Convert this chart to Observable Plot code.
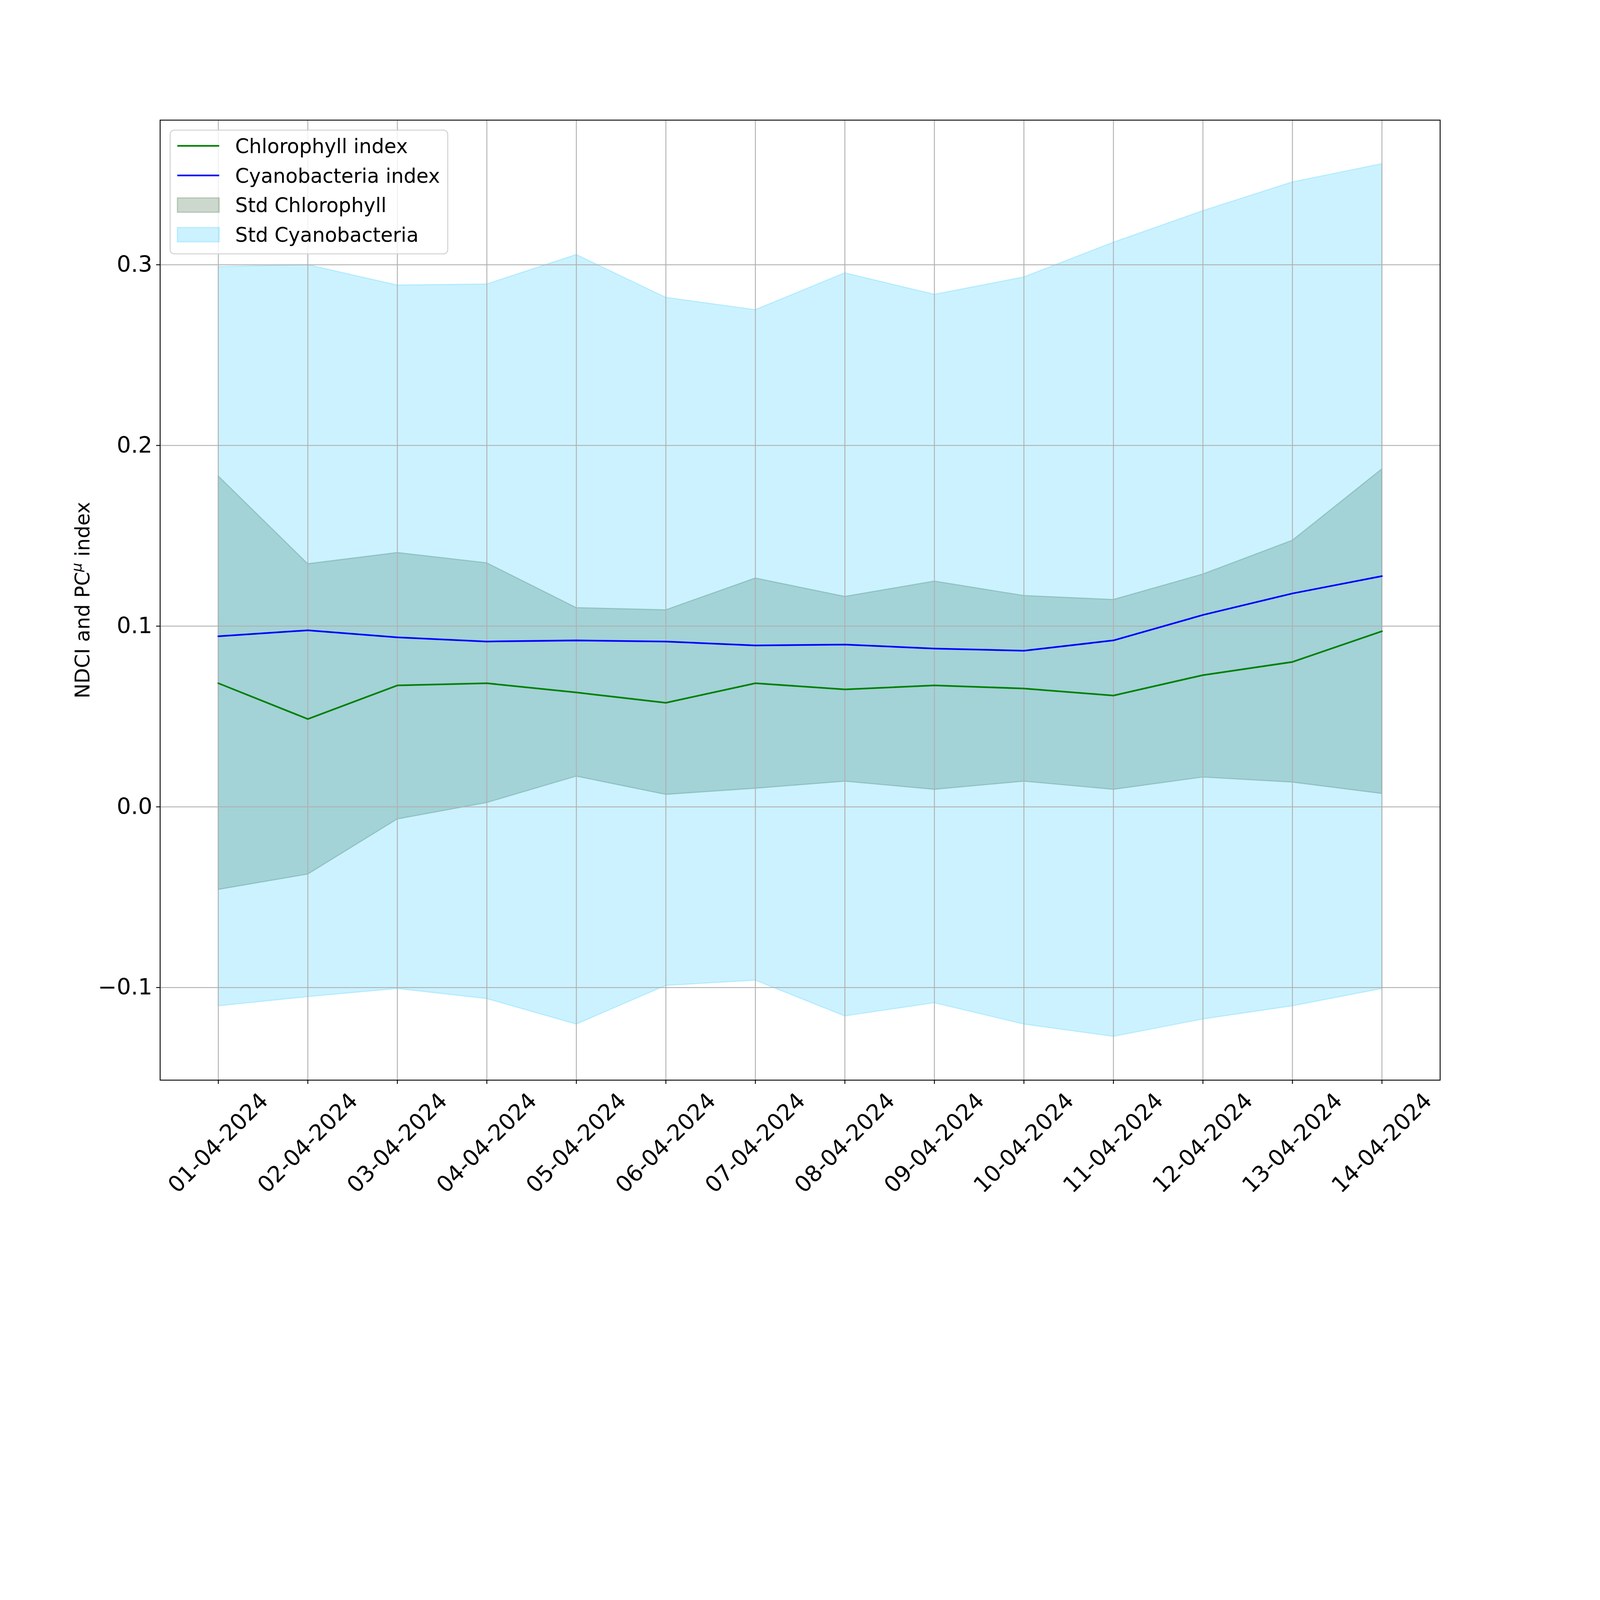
<!DOCTYPE html>
<html>
<head>
<meta charset="utf-8">
<script src="https://cdn.jsdelivr.net/npm/d3@7"></script>
<script src="https://cdn.jsdelivr.net/npm/@observablehq/plot@0.6"></script>
<style>
  html, body { margin: 0; padding: 0; background: white; overflow: hidden; }
  #chart { width: 100vw; line-height: 0; }
  #chart svg { display: block; width: 100vw; height: auto; max-width: none; }
</style>
</head>
<body>
<div id="chart"></div>
<script>
// ---- data ----
const dateLabels = ["01-04-2024","02-04-2024","03-04-2024","04-04-2024","05-04-2024","06-04-2024","07-04-2024",
                    "08-04-2024","09-04-2024","10-04-2024","11-04-2024","12-04-2024","13-04-2024","14-04-2024"];
const chlorophyll = [0.0684,0.0486,0.0672,0.0684,0.0633,0.0576,0.0684,0.0650,0.0672,0.0655,0.0616,0.0729,0.0802,0.0972];
const cyanobacteria = [0.0944,0.0977,0.0938,0.0915,0.0921,0.0915,0.0893,0.0898,0.0876,0.0864,0.0921,0.1062,0.1181,0.1277];
const chlUpper = [0.1831,0.1345,0.1407,0.1350,0.1102,0.1090,0.1266,0.1164,0.1249,0.1169,0.1147,0.1288,0.1475,0.1870];
const chlLower = [-0.0458,-0.0373,-0.0068,0.0023,0.0169,0.0068,0.0102,0.0141,0.0096,0.0141,0.0096,0.0164,0.0136,0.0073];
const cyUpper = [0.2989,0.3000,0.2887,0.2893,0.3056,0.2819,0.2751,0.2955,0.2836,0.2932,0.3124,0.3299,0.3458,0.3559];
const cyLower = [-0.1102,-0.1051,-0.1006,-0.1062,-0.1203,-0.0989,-0.0960,-0.1158,-0.1085,-0.1203,-0.1271,-0.1175,-0.1102,-0.1006];
const yTicks = [-0.1, 0.0, 0.1, 0.2, 0.3];
const seriesNames = ["Chlorophyll index", "Cyanobacteria index", "Std Chlorophyll", "Std Cyanobacteria"];

// ---- build table ----
const parseDate = s => { const [d, m, y] = s.split("-").map(Number); return new Date(Date.UTC(y, m - 1, d)); };
const rows = dateLabels.map((lab, i) => ({
  label: lab, date: parseDate(lab),
  chl: chlorophyll[i], cy: cyanobacteria[i],
  chlHi: chlUpper[i], chlLo: chlLower[i], cyHi: cyUpper[i], cyLo: cyLower[i]
}));
const xDates = rows.map(r => r.date);
const span = xDates[xDates.length - 1] - xDates[0];
const xDomain = [new Date(+xDates[0] - 0.05 * span), new Date(+xDates[xDates.length - 1] + 0.05 * span)];
const allY = [...cyUpper, ...cyLower, ...chlUpper, ...chlLower];
const yMin = d3.min(allY), yMax = d3.max(allY), yPad = 0.05 * (yMax - yMin);

const CHL_C = "rgb(0,60,5)";
const CY_C = "rgb(0,191,255)";
const PT = 300 / 72; // px per point

const fmt = d => (d < 0 ? "\u2212" : "") + Math.abs(d).toFixed(1);

const svg = Plot.plot({
  width: 6000, height: 4500,
  marginLeft: 600, marginRight: 600, marginTop: 450, marginBottom: 450,
  style: { fontFamily: "DejaVu Sans", fontSize: "84px", color: "black", background: "white" },
  x: { type: "utc", domain: xDomain, label: null },
  y: { domain: [yMin - yPad, yMax + yPad], label: null },
  marks: [
    Plot.areaY(rows, { x: "date", y1: "chlLo", y2: "chlHi", fill: CHL_C, fillOpacity: 0.2,
      stroke: CHL_C, strokeOpacity: 0.2, strokeWidth: 1 * PT }),
    Plot.areaY(rows, { x: "date", y1: "cyLo", y2: "cyHi", fill: CY_C, fillOpacity: 0.2,
      stroke: CY_C, strokeOpacity: 0.2, strokeWidth: 1 * PT }),
    Plot.gridX({ ticks: xDates, stroke: "#b0b0b0", strokeOpacity: 1, strokeWidth: 0.8 * PT }),
    Plot.gridY({ ticks: yTicks, stroke: "#b0b0b0", strokeOpacity: 1, strokeWidth: 0.8 * PT }),
    Plot.lineY(rows, { x: "date", y: "chl", stroke: "green", strokeWidth: 1.5 * PT }),
    Plot.lineY(rows, { x: "date", y: "cy", stroke: "blue", strokeWidth: 1.5 * PT }),
    Plot.frame({ stroke: "black", strokeWidth: 0.8 * PT }),
    Plot.axisY({ ticks: yTicks, tickSize: 3.5 * PT, tickPadding: 3.5 * PT, tickFormat: fmt,
      fontSize: 84, strokeWidth: 0.8 * PT, label: null }),
    Plot.axisX({ ticks: xDates, tickSize: 3.5 * PT, tickFormat: () => "", strokeWidth: 0.8 * PT, label: null }),
    Plot.text(rows, { x: "date", frameAnchor: "bottom", dy: 236, text: "label", rotate: -45,
      fontSize: 84, textAnchor: "middle", lineAnchor: "middle", fill: "black" }),
    Plot.text(["NDCI and PC\u03bc index"], { frameAnchor: "left", dx: -265, text: d => d, rotate: -90,
      fontSize: 75, textAnchor: "middle", lineAnchor: "bottom", fill: "black", className: "ylabel" })
  ]
});

// superscript italic mu in the y label
d3.select(svg).selectAll("g.ylabel text").each(function () {
  const t = d3.select(this);
  const full = t.text();
  const [a, b] = full.split("\u03bc");
  t.text(null);
  t.append("tspan").text(a);
  t.append("tspan").attr("dy", -29).attr("font-size", 53).attr("font-style", "italic").text("\u03bc");
  t.append("tspan").attr("dy", 29).text(b);
});

// legend (upper left, matplotlib style)
const lg = d3.select(svg).append("g").attr("font-family", "DejaVu Sans").attr("font-size", 74.5)
  .attr("text-anchor", "start");
lg.append("rect").attr("x", 638).attr("y", 488).attr("width", 1041).attr("height", 464)
  .attr("rx", 16).attr("fill", "white").attr("fill-opacity", 0.8)
  .attr("stroke", "#cccccc").attr("stroke-opacity", 0.8).attr("stroke-width", 1 * PT);
const hx0 = 665, hx1 = 822, tx = 882, rowY = [547, 658, 769, 880];
lg.append("line").attr("x1", hx0).attr("x2", hx1).attr("y1", rowY[0]).attr("y2", rowY[0])
  .attr("stroke", "green").attr("stroke-width", 1.5 * PT);
lg.append("line").attr("x1", hx0).attr("x2", hx1).attr("y1", rowY[1]).attr("y2", rowY[1])
  .attr("stroke", "blue").attr("stroke-width", 1.5 * PT);
[[CHL_C, rowY[2]], [CY_C, rowY[3]]].forEach(([c, y]) => {
  lg.append("rect").attr("x", hx0).attr("y", y - 27).attr("width", hx1 - hx0).attr("height", 54)
    .attr("fill", c).attr("fill-opacity", 0.2).attr("stroke", c).attr("stroke-opacity", 0.2)
    .attr("stroke-width", 1 * PT);
});
seriesNames.forEach((n, i) => {
  lg.append("text").attr("x", tx).attr("y", rowY[i]).attr("dy", "0.36em").attr("fill", "black").text(n);
});

document.getElementById("chart").appendChild(svg);
</script>
</body>
</html>
